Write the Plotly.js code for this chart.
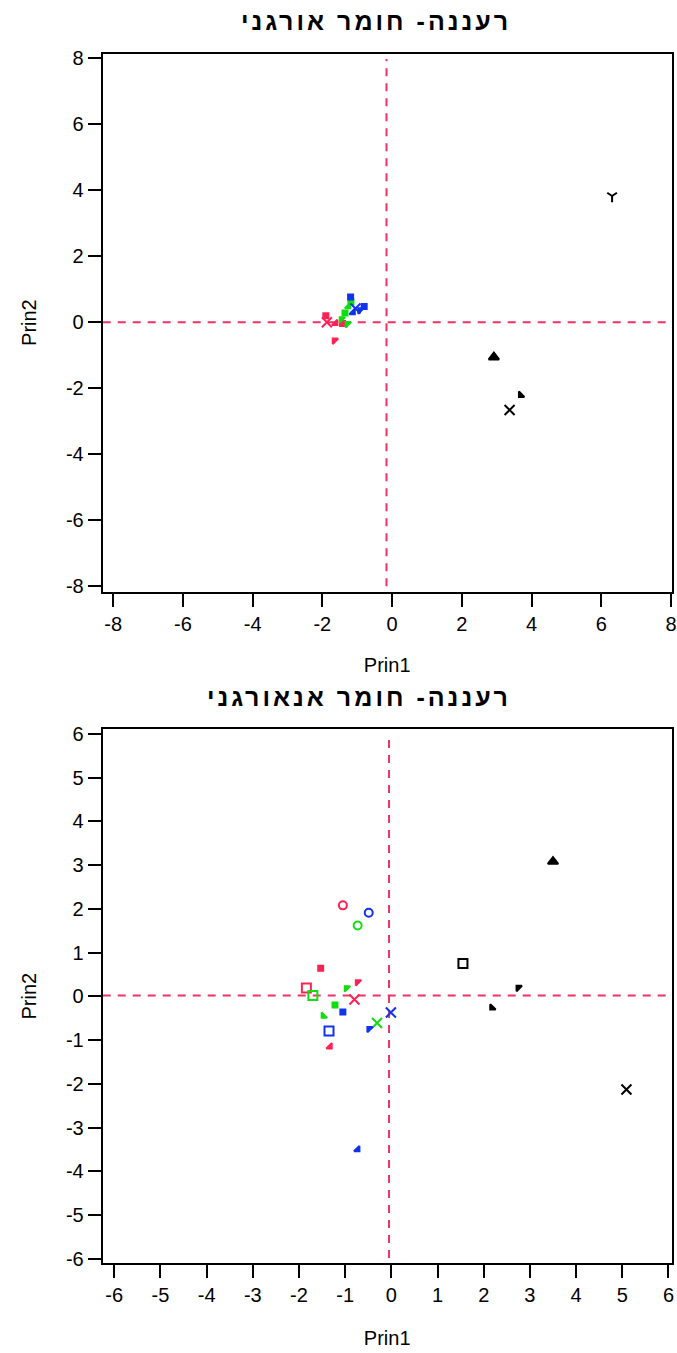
<!DOCTYPE html>
<html>
<head>
<meta charset="utf-8">
<script src="https://cdn.plot.ly/plotly-3.0.1.min.js"></script>
<style>
  html, body { margin: 0; padding: 0; background: #ffffff; }
  #chart { width: 677px; height: 1353px; }
  text.annotation-text { letter-spacing: 3px; }
</style>
</head>
<body>
<div id="chart"></div>
<script>
// Principal component scores, organic matter (upper panel)
const orgRedX   = [-1.90, -1.87, -1.62, -1.42, -1.65];
const orgRedY   = [0.20, 0.00, -0.03, -0.04, -0.55];
const orgGreenX = [-1.45, -1.35, -1.25, -1.18, -1.28];
const orgGreenY = [0.10, 0.28, 0.48, 0.62, -0.05];
const orgBlueX  = [-1.19, -1.05, -0.92, -0.80, -1.12];
const orgBlueY  = [0.77, 0.42, 0.37, 0.48, 0.30];
const orgBlackX = [6.31, 2.92, 3.69, 3.37];
const orgBlackY = [3.83, -1.06, -2.21, -2.66];

// Principal component scores, inorganic matter (lower panel)
const inoRedX   = [-1.05, -1.53, -1.84, -0.73, -0.80, -1.33];
const inoRedY   = [2.08, 0.64, 0.19, 0.33, -0.07, -1.15];
const inoGreenX = [-0.73, -1.70, -0.97, -1.22, -1.47, -0.31];
const inoGreenY = [1.62, 0.02, 0.19, -0.20, -0.45, -0.61];
const inoBlueX  = [-0.49, -1.05, -1.35, -0.48, -0.01, -0.73];
const inoBlueY  = [1.91, -0.36, -0.79, -0.74, -0.37, -3.50];
const inoBlackX = [3.50, 1.55, 2.75, 2.18, 5.09];
const inoBlackY = [3.08, 0.75, 0.20, -0.26, -2.13];

// Reference lines (Prin1, Prin2) for each panel
const orgRefX = -0.16, orgRefY = 0;
const inoRefX = -0.05, inoRefY = 0.02;

// Axis tick values
const orgTicks = [-8, -6, -4, -2, 0, 2, 4, 6, 8];
const inoTicks = [-6, -5, -4, -3, -2, -1, 0, 1, 2, 3, 4, 5, 6];

const titleTop = 'רעננה- חומר אורגני';
const titleBottom = 'רעננה- חומר אנאורגני';

// Plot symbols used for the individual samples
const orgRedSym   = ['square', 'x-thin-open', 'triangle-se', 'square', 'triangle-nw'];
const orgGreenSym = ['triangle-nw', 'square', 'triangle-se', 'square', 'triangle-nw'];
const orgBlueSym  = ['square', 'x-thin-open', 'triangle-nw', 'square', 'triangle-se'];
const orgBlackSym = ['y-down-open', 'triangle-up', 'triangle-sw', 'x-thin-open'];
const inoRedSym   = ['circle-open', 'square', 'square-open', 'triangle-nw', 'x-thin-open', 'triangle-se'];
const inoGreenSym = ['circle-open', 'square-open', 'triangle-nw', 'square', 'triangle-sw', 'x-thin-open'];
const inoBlueSym  = ['circle-open', 'square', 'square-open', 'triangle-nw', 'x-thin-open', 'triangle-se'];
const inoBlackSym = ['triangle-up', 'square-open', 'triangle-nw', 'triangle-sw', 'x-thin-open'];

const RED = '#ff2255', GREEN = '#11dd11', BLUE = '#1133ee', BLACK = '#000000';

function sizeFor(sym) {
  if (sym === 'x-thin-open') return 10;
  if (sym === 'circle-open') return 8;
  if (sym === 'square-open') return 9;
  if (sym === 'triangle-up') return 9;
  if (sym === 'y-down-open') return 8;
  if (sym === 'square') return 5;
  return 6;
}

function series(xs, ys, syms, color, xa, ya) {
  return {
    type: 'scatter', mode: 'markers', x: xs, y: ys,
    xaxis: xa, yaxis: ya, hoverinfo: 'skip', showlegend: false,
    marker: {
      color: color, symbol: syms, size: syms.map(sizeFor), opacity: 1,
      line: { color: color, width: 2 }
    }
  };
}

const data = [
  series(orgRedX, orgRedY, orgRedSym, RED, 'x', 'y'),
  series(orgGreenX, orgGreenY, orgGreenSym, GREEN, 'x', 'y'),
  series(orgBlueX, orgBlueY, orgBlueSym, BLUE, 'x', 'y'),
  series(orgBlackX, orgBlackY, orgBlackSym, BLACK, 'x', 'y'),
  series(inoRedX, inoRedY, inoRedSym, RED, 'x2', 'y2'),
  series(inoGreenX, inoGreenY, inoGreenSym, GREEN, 'x2', 'y2'),
  series(inoBlueX, inoBlueY, inoBlueSym, BLUE, 'x2', 'y2'),
  series(inoBlackX, inoBlackY, inoBlackSym, BLACK, 'x2', 'y2')
];

const tickFont = { family: 'Liberation Sans, Arial, sans-serif', size: 20, color: '#000' };

function axis(ticks, range, domain, anchor, title, standoff) {
  return {
    domain: domain, anchor: anchor, range: range,
    tickmode: 'array', tickvals: ticks, ticktext: ticks.map(String),
    ticks: 'outside', ticklen: 13, tickwidth: 2, tickcolor: '#000',
    showline: true, linewidth: 2, linecolor: '#000', mirror: true,
    showgrid: false, zeroline: false, tickfont: tickFont,
    title: { text: title, font: tickFont, standoff: standoff }
  };
}

const xDom = [102.7 / 677, 671.7 / 677];
const topDom = [1 - 591.7 / 1353, 1 - 53.5 / 1353];
const botDom = [1 - 1263.3 / 1353, 1 - 729 / 1353];

function refLines(xa, ya, rx, ry) {
  const ln = { color: '#ee3366', width: 2, dash: '8px,7px' };
  return [
    { type: 'line', xref: xa, yref: ya + ' domain', x0: rx, x1: rx, y0: 0.01, y1: 0.99, line: ln, layer: 'below' },
    { type: 'line', xref: xa + ' domain', yref: ya, x0: 0, x1: 1, y0: ry, y1: ry, line: ln, layer: 'below' }
  ];
}

const titleFont = { family: 'Liberation Sans, DejaVu Sans, sans-serif', size: 25, color: '#000', weight: 'bold' };

const layout = {
  width: 677, height: 1353,
  margin: { l: 0, r: 0, t: 0, b: 0 },
  paper_bgcolor: '#ffffff', plot_bgcolor: '#ffffff',
  showlegend: false,
  xaxis: axis(orgTicks, [-8.3, 8.02], xDom, 'y', 'Prin1', 24),
  yaxis: axis(orgTicks, [-8.17, 8.15], topDom, 'x', 'Prin2', 24),
  xaxis2: axis(inoTicks, [-6.25, 6.07], xDom, 'y2', 'Prin1', 26),
  yaxis2: axis(inoTicks, [-6.1, 6.11], botDom, 'x2', 'Prin2', 24),
  shapes: refLines('x', 'y', orgRefX, orgRefY).concat(refLines('x2', 'y2', inoRefX, inoRefY)),
  annotations: [
    { text: titleTop, xref: 'paper', yref: 'paper', x: 513 / 677, y: 1 - 21 / 1353,
      xanchor: 'right', yanchor: 'middle', showarrow: false, font: titleFont },
    { text: titleBottom, xref: 'paper', yref: 'paper', x: 513 / 677, y: 1 - 697 / 1353,
      xanchor: 'right', yanchor: 'middle', showarrow: false, font: titleFont }
  ]
};

Plotly.newPlot('chart', data, layout, { displayModeBar: false, staticPlot: true });
</script>
</body>
</html>
